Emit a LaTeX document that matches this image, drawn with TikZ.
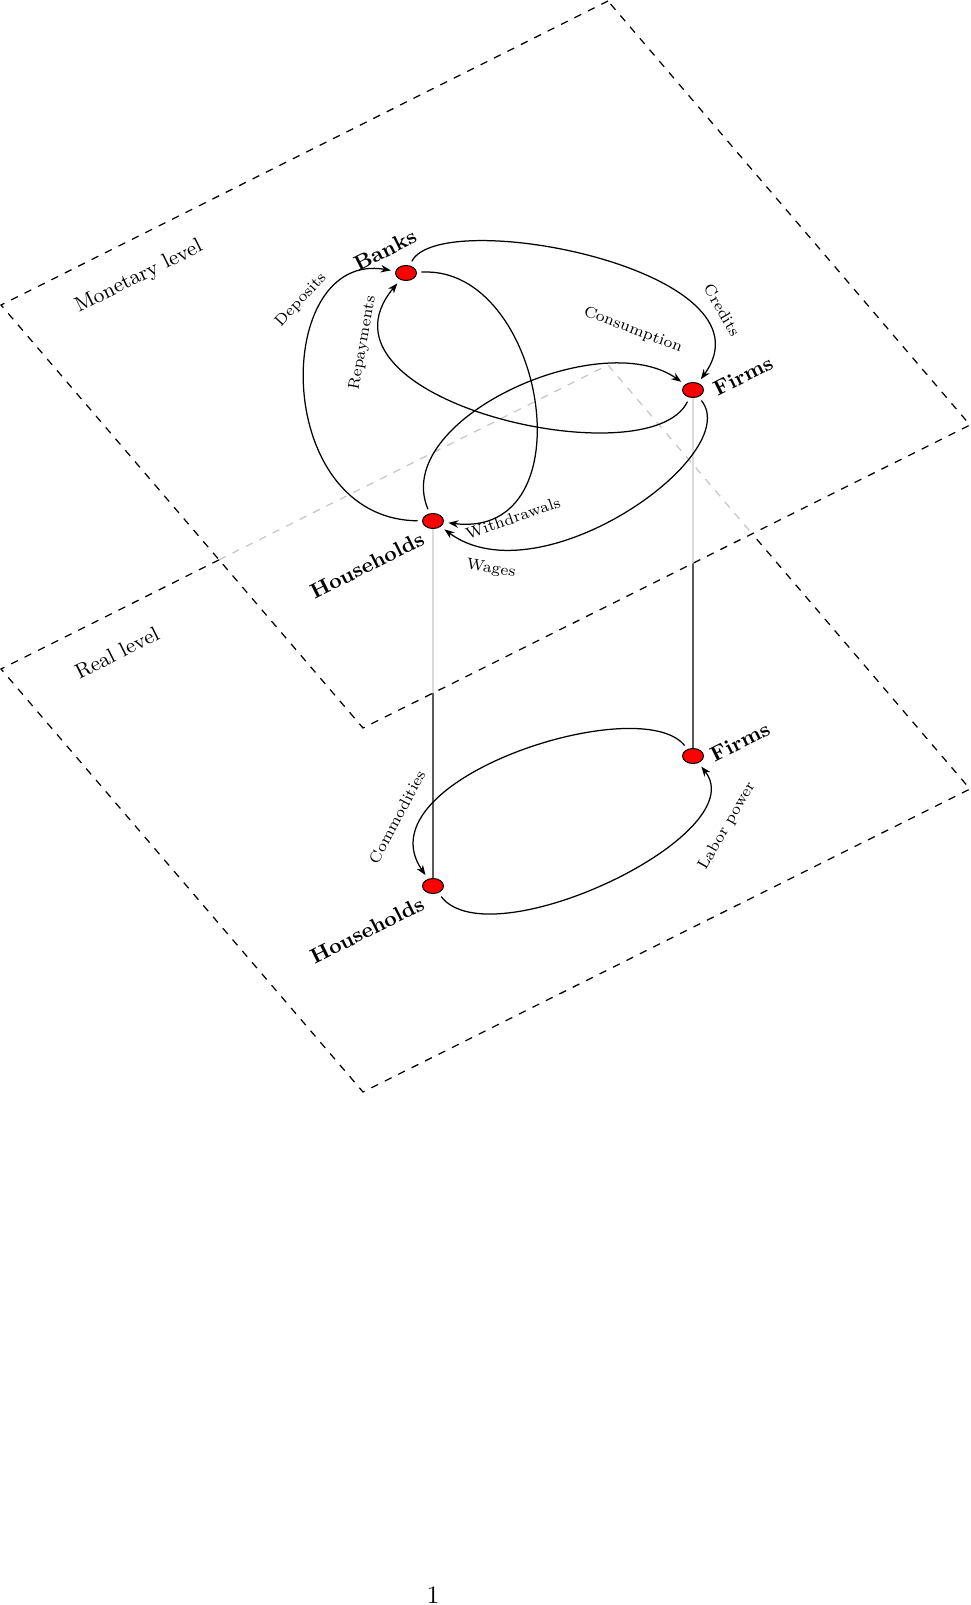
\documentclass[tikz,border=0pt]{standalone}
\usepackage{tikz}
\usetikzlibrary{shapes.geometric, arrows.meta, calc, backgrounds}

\begin{document}
\begin{tikzpicture}[
        x=0.4pt, y=-0.4pt,
        plane/.style={dashed, line width=0.5pt},
        hidden/.style={dashed, gray!45, line width=0.5pt},
        agent/.style={ellipse, draw=black, fill=red, inner sep=0pt, minimum width=8.4pt, minimum height=6pt, outer sep=2pt},
        agentlabel/.style={font=\small\bfseries, rotate=26.6, scale=0.94},
        lvl/.style={font=\small, rotate=26.6, scale=0.93},
        flow/.style={-{Stealth[length=4pt, width=3pt]}, line width=0.5pt},
        lbl/.style={font=\scriptsize, scale=0.9},
        link/.style={line width=0.5pt},
        linkhidden/.style={gray!45, line width=0.5pt}
    ]
        \useasboundingbox (0,0) rectangle (971,1605);

        \coordinate (mtop) at (608,1);
        \coordinate (mleft) at (1,305);
        \coordinate (mbot) at (363,728);
        \coordinate (mright) at (970,425);
        \coordinate (rtop) at (608,365);
        \coordinate (rleft) at (1,669);
        \coordinate (rbot) at (363,1092);
        \coordinate (rright) at (970,789);

        \node (banks) [agent] at (406,273) {};
        \node (firmsm) [agent] at (693,390) {};
        \node (hhm) [agent] at (433,521) {};
        \node (firmsr) [agent] at (693,756) {};
        \node (hhr) [agent] at (433,886) {};

        \node (bankstxt) [agentlabel] at (385,250) {Banks};
        \node (firmsmtxt) [agentlabel] at (743,376) {Firms};
        \node (hhmtxt) [agentlabel] at (367,565) {Households};
        \node (firmsrtxt) [agentlabel] at (740,742) {Firms};
        \node (hhrtxt) [agentlabel] at (367,930) {Households};

        \node (montxt) [lvl] at (139,277) {Monetary level};
        \node (realtxt) [lvl] at (117,653) {Real level};

        \begin{pgfonlayer}{background}
            \draw [plane] (mtop) -- (mleft) -- (mbot) -- (mright) -- cycle;
            \path (intersection of rtop--rleft and mleft--mbot) coordinate (cutl);
            \path (intersection of rtop--rright and mbot--mright) coordinate (cutr);
            \draw [hidden] (cutl) -- (rtop) -- (cutr);
            \draw [plane] (cutl) -- (rleft) -- (rbot) -- (rright) -- (cutr);

            \path (intersection of hhm--hhr and mbot--mright) coordinate (hhcut);
            \path (intersection of firmsm--firmsr and mbot--mright) coordinate (firmscut);
            \draw [linkhidden] (hhm.center) -- (hhcut);
            \draw [link] (hhcut) -- (hhr.center);
            \draw [linkhidden] (firmsm.center) -- (firmscut);
            \draw [link] (firmscut) -- (firmsr.center);
        \end{pgfonlayer}

        \draw [flow] (hhm) .. controls (270,519) and (272,250) .. (banks);
        \draw [flow] (firmsm) .. controls (650,480) and (300,400) .. (banks);
        \draw [flow] (banks) .. controls (440,205) and (780,270) .. (firmsm);
        \draw [flow] (banks) .. controls (545,265) and (590,540) .. (hhm);
        \draw [flow] (hhm) .. controls (390,420) and (600,325) .. (firmsm);
        \draw [flow] (firmsm) .. controls (745,455) and (540,600) .. (hhm);
        \draw [flow] (firmsr) .. controls (640,690) and (360,780) .. (hhr);
        \draw [flow] (hhr) .. controls (490,960) and (755,835) .. (firmsr);

        \node (deptxt) [lbl, rotate=47] at (301,300) {Deposits};
        \node (reptxt) [lbl, rotate=80] at (363,343) {Repayments};
        \node (credtxt) [lbl, rotate=-60] at (722,310) {Credits};
        \node (constxt) [lbl, rotate=-21] at (633,330) {Consumption};
        \node (withtxt) [lbl, rotate=19] at (513,518) {Withdrawals};
        \node (wagetxt) [lbl, rotate=-10] at (491,569) {Wages};
        \node (comtxt) [lbl, rotate=62] at (397,817) {Commodities};
        \node (labtxt) [lbl, rotate=60] at (727,826) {Labor power};

        \node (pagenum) at (433,1595) {1};
    \end{tikzpicture}
\end{document}
